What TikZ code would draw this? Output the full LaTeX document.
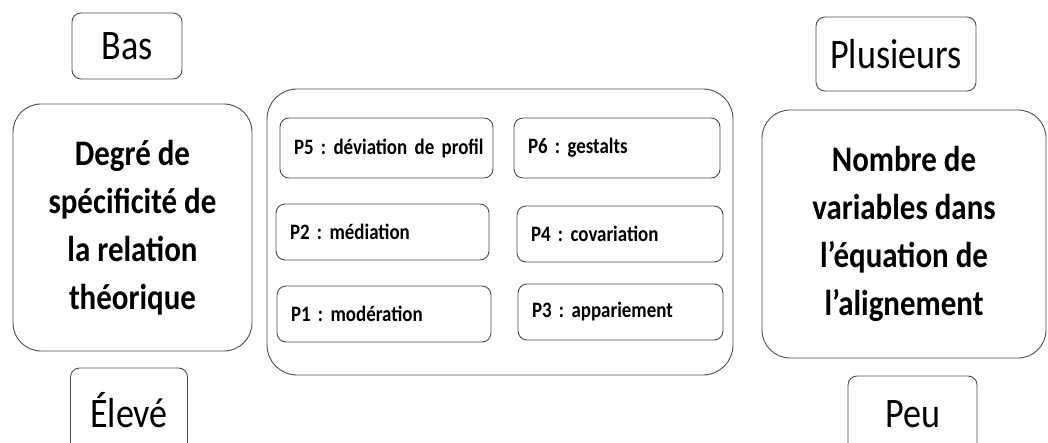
\documentclass[tikz,border=0pt]{standalone}
\usepackage{fontspec}
\setmainfont[FakeStretch=0.86]{Carlito}
\usetikzlibrary{positioning}
\frenchspacing

\begin{document}
\begin{tikzpicture}[x=1pt, y=-1pt,
    every node/.style={draw=black!70, line width=0.9pt, text=black},
    labelbox/.style={rounded corners=9pt, font=\fontsize{42}{46}\selectfont},
    axisbox/.style={rounded corners=28pt, align=center, font=\fontsize{36}{48}\selectfont\bfseries},
    propbox/.style={rounded corners=9pt, align=left, inner xsep=5pt, text width=#1,
      font=\fontsize{22}{25}\selectfont\bfseries,
      execute at begin node=\hspace*{9pt}\hbox\bgroup, execute at end node=\egroup},
  ]
  \useasboundingbox (0,0) rectangle (1048,443);
  \clip (0,0) rectangle (1048,443);

  % Left axis
  \node[labelbox, minimum width=110pt, minimum height=66pt] (bas) at (127, 46) {Bas};
  \node[axisbox, minimum width=239pt, minimum height=247pt] (degre) at (132.5, 227.5)
    {Degré de\\spécificité de\\la relation\\théorique};
  \node[labelbox, minimum width=117pt, minimum height=84pt] (eleve) at (129, 410) {Élevé};

  % Propositions
  \node[rounded corners=30pt, minimum width=466pt, minimum height=286pt] (props) at (500, 232) {};
  \node[propbox=203pt, minimum height=60pt] (p5) at (386.5, 148) {P5 : déviation de profil};
  \node[propbox=196pt, minimum height=60pt] (p6) at (617, 148) {P6 : gestalts};
  \node[propbox=203pt, minimum height=56pt] (p2) at (382.5, 232) {P2 : médiation};
  \node[propbox=196pt, minimum height=56pt] (p4) at (620, 234) {P4 : covariation};
  \node[propbox=204pt, minimum height=56pt] (p1) at (384, 314) {P1 : modération};
  \node[propbox=195pt, minimum height=56pt] (p3) at (620.5, 312) {P3 : appariement};

  % Right axis
  \node[labelbox, minimum width=160pt, minimum height=74pt] (plusieurs) at (896, 54) {Plusieurs};
  \node[axisbox, minimum width=284pt, minimum height=248pt] (nombre) at (904, 234)
    {Nombre de\\variables dans\\l’équation de\\l’alignement};
  \node[labelbox, minimum width=129pt, minimum height=76pt] (peu) at (912.5, 414) {Peu};
\end{tikzpicture}
\end{document}
